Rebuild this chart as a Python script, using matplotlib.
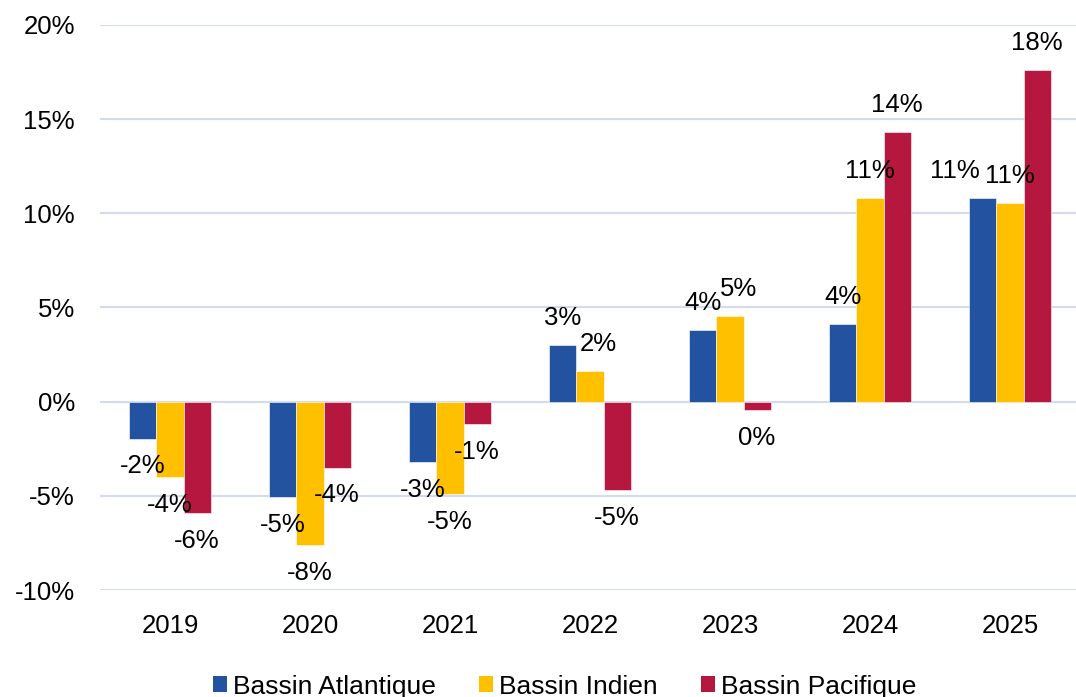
import matplotlib
matplotlib.use("Agg")
import matplotlib.pyplot as plt
from matplotlib.patches import Patch
from matplotlib.ticker import FuncFormatter
import numpy as np

years = ["2019", "2020", "2021", "2022", "2023", "2024", "2025"]
atlantique = [-1.96, -5.05, -3.2, 3.0, 3.8, 4.1, 10.8]
indien = [-4.0, -7.6, -4.9, 1.65, 4.55, 10.8, 10.55]
pacifique = [-5.9, -3.5, -1.2, -4.7, -0.45, 14.3, 17.6]

series = [
    ("Bassin Atlantique", atlantique, "#2353A0"),
    ("Bassin Indien", indien, "#FFC000"),
    ("Bassin Pacifique", pacifique, "#B5173E"),
]

# small sideways nudges (points) for crowded labels, as in the original chart
label_nudge = {(0, 6): -20, (1, 3): 6, (1, 4): 6.5}

plt.rcParams["font.family"] = ["Liberation Sans", "DejaVu Sans"]

figure = plt.figure(figsize=(10.76, 6.97), dpi=100)
ax = figure.add_axes([100 / 1076, 1 - 590 / 697, 980 / 1076, (590 - 25) / 697])

x = np.arange(len(years))
width = 0.193
for i, (name, vals, color) in enumerate(series):
    pos = x + (i - 1) * width
    ax.bar(pos, vals, width, color=color, edgecolor="white", linewidth=0.4, zorder=3)
    for j, (px, v) in enumerate(zip(pos, vals)):
        off = 19.5 if v >= 0 else -20
        txt = "0%" if round(v) == 0 else "{:.0f}%".format(v)
        ax.annotate(txt, (px, v), xytext=(label_nudge.get((i, j), 0), off),
                    textcoords="offset points", ha="center", va="center",
                    fontsize=18.5, color="#000000", zorder=4)

ax.set_xlim(-0.5, len(years) - 0.5)
ax.set_ylim(-10, 20)
ax.set_yticks(np.arange(-10, 21, 5))
ax.yaxis.set_major_formatter(FuncFormatter(lambda v, p: "{:.0f}%".format(v)))
ax.set_xticks(x)
ax.set_xticklabels(years)
ax.grid(axis="y", color="#D3DCEE", linewidth=1.5, zorder=0)
for s in ax.spines.values():
    s.set_visible(False)
ax.tick_params(axis="both", length=0, labelsize=18.5, colors="#000000")
ax.tick_params(axis="y", pad=18)
ax.tick_params(axis="x", pad=17)

handles = [Patch(facecolor=c, edgecolor="none") for _, _, c in series]
figure.legend(handles, [n for n, _, _ in series], loc="center",
              bbox_to_anchor=(0.525, 0.015), ncol=3, frameon=False,
              fontsize=19, handlelength=0.53, handleheight=0.53,
              handletextpad=0.23, columnspacing=1.63)

figure.savefig("out.png", dpi=100)
plt.close(figure)
